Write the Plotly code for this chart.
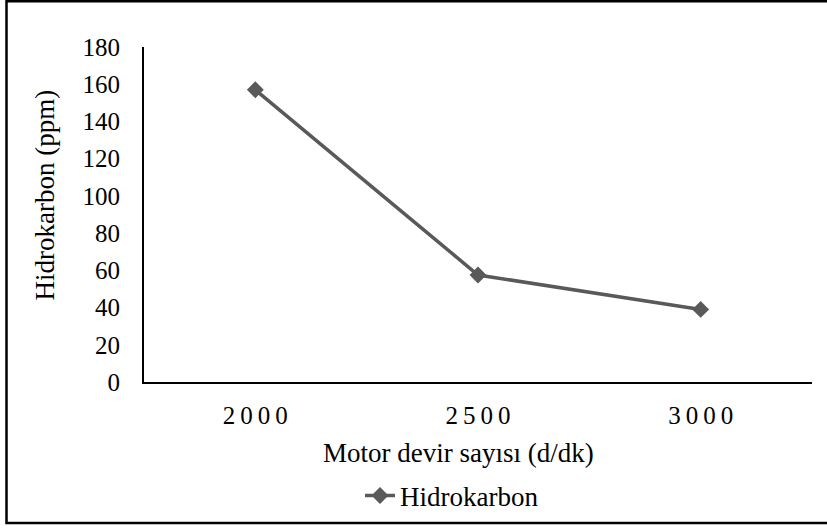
import plotly.graph_objects as go

# ---- data ----
categories = ["2000", "2500", "3000"]
hidrokarbon = [157, 57.5, 39]
y_tick_values = [0, 20, 40, 60, 80, 100, 120, 140, 160, 180]
x_tick_labels = ["\u2009".join(c) for c in categories]
series_name = "Hidrokarbon"
x_title = "Motor devir sayısı (d/dk)"
y_title = "Hidrokarbon (ppm)"

W, H = 827, 531
L, R, T, B = 144, 15, 47, 148
pw, ph = W - L - R, H - T - B

def px(x):
    return (x - L) / pw

def py(y):
    return (H - B - y) / ph

FONT = "Times New Roman"
LINE_C = "#595959"
NOTICK = "rgba(0,0,0,0)"

fig = go.Figure()
fig.add_trace(go.Scatter(
    x=categories, y=hidrokarbon, mode="lines+markers", name=series_name,
    line=dict(color=LINE_C, width=3.5),
    marker=dict(symbol="diamond", size=13, color=LINE_C),
))

fig.update_layout(
    width=W, height=H,
    margin=dict(l=L, r=R, t=T, b=B),
    plot_bgcolor="white",
    font=dict(family=FONT, size=25, color="black"),
    showlegend=True,
    legend=dict(orientation="h", x=px(360), y=py(496), xanchor="left", yanchor="middle",
                font=dict(family=FONT, size=27)),
    xaxis=dict(type="category", range=[-0.5, 2.5], tickmode="array",
               tickvals=categories, ticktext=x_tick_labels,
               showline=True, linecolor="black", linewidth=2,
               showgrid=False, zeroline=False,
               ticks="outside", ticklen=10, tickcolor=NOTICK,
               tickfont=dict(family=FONT, size=25)),
    yaxis=dict(range=[0, 180], tickmode="array", tickvals=y_tick_values,
               showline=True, linecolor="black", linewidth=2,
               showgrid=False, zeroline=False,
               ticks="outside", ticklen=17, tickcolor=NOTICK,
               tickfont=dict(family=FONT, size=25)),
    annotations=[
        dict(text=x_title, xref="paper", yref="paper", x=px(458), y=py(454),
             xanchor="center", yanchor="middle", showarrow=False,
             font=dict(family=FONT, size=27)),
        dict(text=y_title, xref="paper", yref="paper", x=px(45), y=py(196),
             xanchor="center", yanchor="middle", showarrow=False, textangle=-90,
             font=dict(family=FONT, size=27)),
    ],
    shapes=[
        dict(type="rect", xref="paper", yref="paper",
             x0=px(6.5), x1=px(835), y0=py(524.5), y1=py(1),
             line=dict(color="black", width=2.5), layer="below"),
    ],
)

fig.write_html("out.html")
